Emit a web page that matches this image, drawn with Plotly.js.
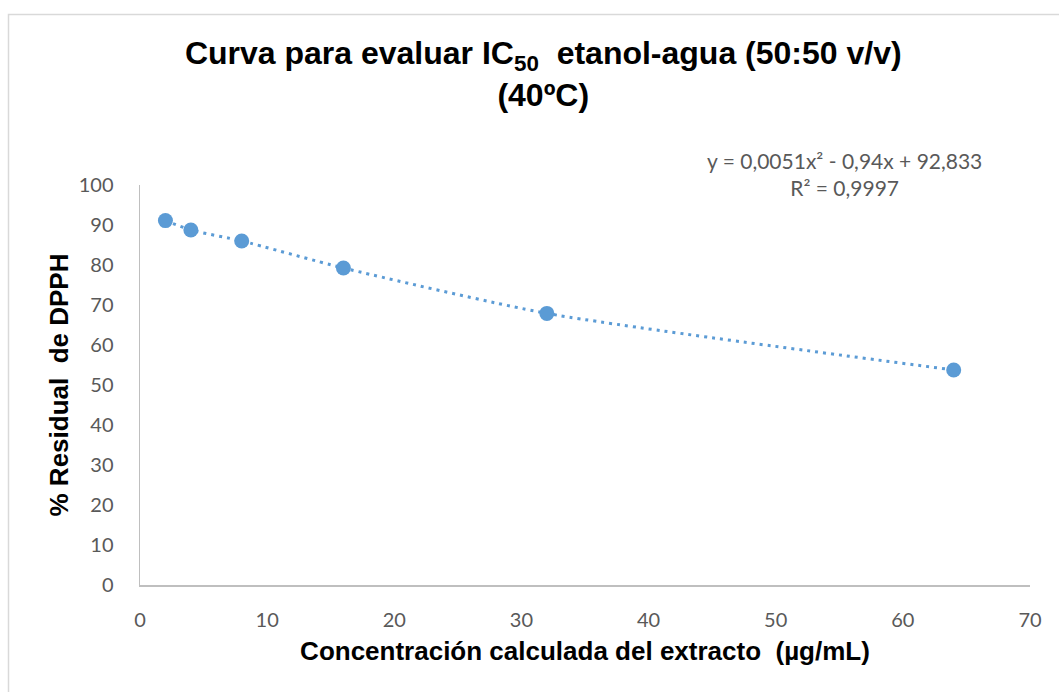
<!DOCTYPE html>
<html>
<head>
<meta charset="utf-8">
<script src="https://cdn.plot.ly/plotly-3.0.1.min.js"></script>
<style>html,body{margin:0;padding:0;background:#fff;}#chart{width:1059px;height:692px;}</style>
</head>
<body>
<div id="chart"></div>
<script>
const concentration = [2, 4, 8, 16, 32, 64];
const residualDPPH = [91.1, 88.75, 86.0, 79.25, 67.9, 53.75];
const xTicks = [0, 10, 20, 30, 40, 50, 60, 70];
const yTicks = [0, 10, 20, 30, 40, 50, 60, 70, 80, 90, 100];
const equationText = "y = 0,0051x² - 0,94x + 92,833<br>R² = 0,9997";

const blue = "#5b9bd5";
const tickFont = {family: "Lato, 'Open Sans', sans-serif", size: 20, color: "#595959"};
const boldFamily = "'Liberation Sans', Arial, sans-serif";

const traces = [
  {
    x: concentration, y: residualDPPH, mode: "lines", type: "scatter",
    line: {color: blue, width: 3, dash: "3px,5px", shape: "spline", smoothing: 0.6},
    hoverinfo: "skip", showlegend: false
  },
  {
    x: concentration, y: residualDPPH, mode: "markers", type: "scatter",
    marker: {color: blue, size: 15}, showlegend: false
  }
];

const layout = {
  width: 1059, height: 692,
  margin: {l: 140, r: 29, t: 185, b: 107},
  paper_bgcolor: "#fff", plot_bgcolor: "#fff",
  showlegend: false,
  title: {
    text: "<b>Curva para evaluar IC<sub>50</sub>  etanol-agua (50:50 v/v)<br>(40ºC)</b>",
    font: {family: boldFamily, size: 32, color: "#000"},
    x: 0.513, xanchor: "center", y: 0.907, yanchor: "top"
  },
  xaxis: {
    range: [0, 70], tickvals: xTicks, ticktext: xTicks.map(String),
    showgrid: false, zeroline: false, showline: true, linecolor: "#bfbfbf", linewidth: 1.5,
    ticks: "", ticklabelstandoff: 16, tickfont: tickFont,
    title: {text: "<b>Concentración calculada del extracto  (µg/mL)</b>",
      font: {family: boldFamily, size: 26, color: "#000"}, standoff: 12}
  },
  yaxis: {
    range: [0, 100], tickvals: yTicks, ticktext: yTicks.map(String),
    showgrid: false, zeroline: false, showline: true, linecolor: "#bfbfbf", linewidth: 1.5,
    ticks: "", ticklabelstandoff: 21, tickfont: tickFont,
    title: {text: "<b>% Residual  de DPPH</b>",
      font: {family: boldFamily, size: 26, color: "#000"}, standoff: 2}
  },
  annotations: [{
    text: equationText, xref: "paper", yref: "paper",
    x: (844 - 140) / 890, y: (585 - 174) / 400, xanchor: "center", yanchor: "middle",
    showarrow: false, align: "center",
    font: {family: "Lato, 'Open Sans', sans-serif", size: 21, color: "#595959"}
  }],
  shapes: [{
    type: "rect", xref: "paper", yref: "paper",
    x0: (8.5 - 140) / 890, x1: 1.2, y0: -0.5, y1: (585 - 14.5) / 400,
    line: {color: "#d9d9d9", width: 1.5}, fillcolor: "rgba(0,0,0,0)", layer: "below"
  }]
};

Plotly.newPlot("chart", traces, layout, {displayModeBar: false, staticPlot: true});
</script>
</body>
</html>
